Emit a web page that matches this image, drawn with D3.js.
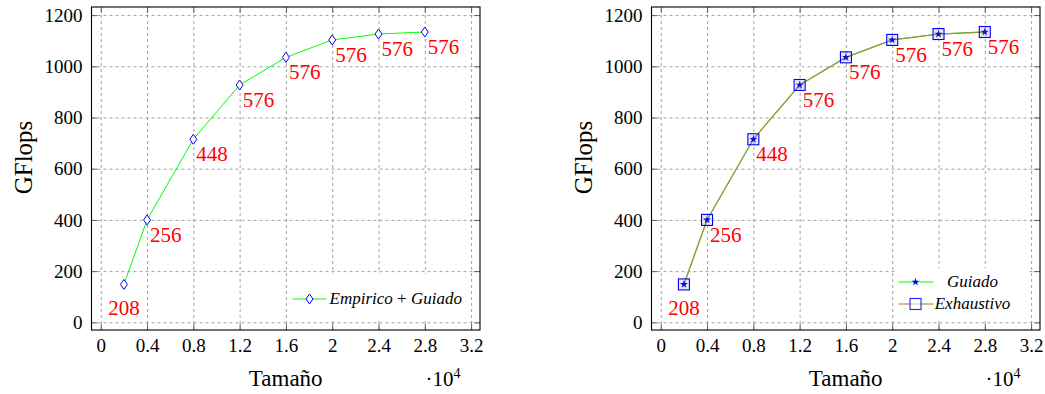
<!DOCTYPE html>
<html><head><meta charset="utf-8">
<script src="https://cdn.jsdelivr.net/npm/d3@7"></script>
</head><body style="margin:0">
<svg id="c" width="1045" height="394"></svg>
<script>
// ---- data ----
const sizes = [0.2, 0.4, 0.8, 1.2, 1.6, 2.0, 2.4, 2.8];           // ×10^4
const empiricoGuiado = [148, 400, 715, 927, 1035, 1103, 1126, 1134]; // GFlops
const guiado = [148, 400, 715, 927, 1035, 1103, 1126, 1134];
const exhaustivo = [148, 400, 715, 927, 1035, 1103, 1126, 1134];
const blockLabels = ["208", "256", "448", "576", "576", "576", "576", "576"];
const xTicks = [0, 0.4, 0.8, 1.2, 1.6, 2, 2.4, 2.8, 3.2];
const xTickLabels = ["0", "0.4", "0.8", "1.2", "1.6", "2", "2.4", "2.8", "3.2"];
const yTicks = [0, 200, 400, 600, 800, 1000, 1200];

const svg = d3.select("#c").attr("font-family", "Liberation Serif");
const serif = sel => sel.attr("font-family", "Liberation Serif").style("font-family", d => '"Liberation Serif"');
const W = 388.5, H = 323;
const x = d3.scaleLinear().domain([-0.08, 3.277]).range([0, W]);
const y = d3.scaleLinear().domain([-30, 1231.6]).range([H, 0]);

function panel(ox, oy) {
  const g = svg.append("g").attr("transform", `translate(${ox},${oy})`);
  const grid = a => { a.select(".domain").remove(); a.selectAll("line").attr("stroke", "#8a8a8a").attr("stroke-dasharray", "3,3").attr("stroke-width", 0.8); };
  g.append("g").attr("transform", `translate(0,${H})`)
    .call(d3.axisBottom(x).tickValues(xTicks).tickSize(-H).tickFormat("")).call(grid);
  g.append("g")
    .call(d3.axisLeft(y).tickValues(yTicks).tickSize(-W).tickFormat("")).call(grid);
  const tk = a => { a.select(".domain").remove(); a.selectAll("line").attr("stroke", "#555").attr("stroke-width", 0.9); };
  g.append("g").attr("transform", `translate(0,${H})`).call(d3.axisBottom(x).tickValues(xTicks).tickSize(-6).tickFormat("")).call(tk);
  g.append("g").call(d3.axisTop(x).tickValues(xTicks).tickSize(-6).tickFormat("")).call(tk);
  g.append("g").call(d3.axisLeft(y).tickValues(yTicks).tickSize(-6).tickFormat("")).call(tk);
  g.append("g").attr("transform", `translate(${W},0)`).call(d3.axisRight(y).tickValues(yTicks).tickSize(-6).tickFormat("")).call(tk);
  const lab = a => { a.attr("font-family", "Liberation Serif"); a.select(".domain").remove(); a.selectAll("text").attr("font-size", 19).attr("fill", "#000").call(serif); };
  g.append("g").attr("transform", `translate(0,${H})`)
    .call(d3.axisBottom(x).tickValues(xTicks).tickSize(0).tickPadding(9).tickFormat((d, i) => xTickLabels[i])).call(lab);
  g.append("g")
    .call(d3.axisLeft(y).tickValues(yTicks).tickSize(0).tickPadding(9).tickFormat(d3.format("d"))).call(lab);
  g.append("rect").attr("width", W).attr("height", H).attr("fill", "none").attr("stroke", "#000").attr("stroke-width", 1.1);
  g.append("text").attr("transform", `translate(${-60},${150.5}) rotate(-90)`).attr("text-anchor", "middle")
    .attr("font-size", 25).call(serif).text("GFlops");
  g.append("text").attr("x", W / 2).attr("y", 379).attr("text-anchor", "middle").attr("font-size", 23).call(serif).text("Tamaño");
  const m = g.append("text").attr("x", 334).attr("y", 379).attr("font-size", 21).call(serif);
  m.append("tspan").text("·10");
  m.append("tspan").attr("font-size", 14).attr("dy", -8).text("4");
  return g;
}

function labels(g, vals) {
  g.append("g").selectAll("text").data(vals).join("text")
    .attr("x", (d, i) => x(sizes[i]) + (i === 0 ? 0 : 3))
    .attr("y", (d, i) => y(d) + (i === 0 ? 31 : 22))
    .attr("text-anchor", (d, i) => i === 0 ? "middle" : "start")
    .attr("font-size", 21).attr("fill", "#ff0000").call(serif)
    .text((d, i) => blockLabels[i]);
}

const line = d3.line().x((d, i) => x(sizes[i])).y(d => y(d));
const diamond = "M0,-5L3.5,0L0,5L-3.5,0Z";

// ---- left panel ----
const g1 = panel(91.5, 7);
g1.append("path").datum(empiricoGuiado).attr("d", line).attr("fill", "none").attr("stroke", "#00ff00").attr("stroke-width", 1);
g1.append("g").selectAll("path").data(empiricoGuiado).join("path")
  .attr("transform", (d, i) => `translate(${x(sizes[i])},${y(d)})`)
  .attr("d", diamond).attr("fill", "#fff").attr("stroke", "#0000ff").attr("stroke-width", 1);
labels(g1, empiricoGuiado);
const l1 = g1.append("g").attr("transform", "translate(197,267)");
l1.append("rect").attr("width", 180).attr("height", 46).attr("fill", "#fff");
l1.append("line").attr("x1", 4).attr("x2", 38).attr("y1", 25).attr("y2", 25).attr("stroke", "#00ff00");
l1.append("path").attr("transform", "translate(21,25)").attr("d", diamond).attr("fill", "#fff").attr("stroke", "#0000ff");
const t1 = l1.append("text").attr("x", 41).attr("y", 30).attr("font-size", 17).call(serif);
t1.append("tspan").attr("font-style", "italic").text("Empirico");
t1.append("tspan").text(" + ");
t1.append("tspan").attr("font-style", "italic").text("Guiado");

// ---- right panel ----
const g2 = panel(651.5, 7);
g2.append("path").datum(guiado).attr("d", line).attr("fill", "none").attr("stroke", "#00ff00").attr("stroke-width", 1);
g2.append("path").datum(exhaustivo).attr("d", line).attr("fill", "none").attr("stroke", "#8f9a38").attr("stroke-width", 1.3);
g2.append("g").selectAll("rect").data(exhaustivo).join("rect")
  .attr("x", (d, i) => x(sizes[i]) - 5.5).attr("y", d => y(d) - 5.5).attr("width", 11).attr("height", 11)
  .attr("fill", "rgba(60,60,255,0.12)").attr("stroke", "#0000ff").attr("stroke-width", 1.1);
const star = d3.symbol(d3.symbolStar, 20);
g2.append("g").selectAll("path").data(guiado).join("path")
  .attr("transform", (d, i) => `translate(${x(sizes[i])},${y(d)})`)
  .attr("d", star).attr("fill", "#1010c0");
labels(g2, guiado);
const l2 = g2.append("g").attr("transform", "translate(244,261)");
l2.append("rect").attr("width", 133).attr("height", 51).attr("fill", "#fff");
l2.append("line").attr("x1", 3).attr("x2", 38).attr("y1", 14).attr("y2", 14).attr("stroke", "#00ff00");
l2.append("path").attr("transform", "translate(20,14)").attr("d", star).attr("fill", "#0000ff");
l2.append("text").attr("x", 77).attr("y", 19).attr("text-anchor", "middle").attr("font-size", 17).attr("font-style", "italic").call(serif).text("Guiado");
l2.append("line").attr("x1", 3).attr("x2", 38).attr("y1", 36).attr("y2", 36).attr("stroke", "#d8b894").attr("stroke-width", 2.2);
l2.append("rect").attr("x", 14.5).attr("y", 30.5).attr("width", 11).attr("height", 11).attr("fill", "rgba(255,255,255,0.6)").attr("stroke", "#2020ff").attr("stroke-width", 1.1);
l2.append("text").attr("x", 77).attr("y", 41).attr("text-anchor", "middle").attr("font-size", 17).attr("font-style", "italic").call(serif).text("Exhaustivo");
</script></body></html>
